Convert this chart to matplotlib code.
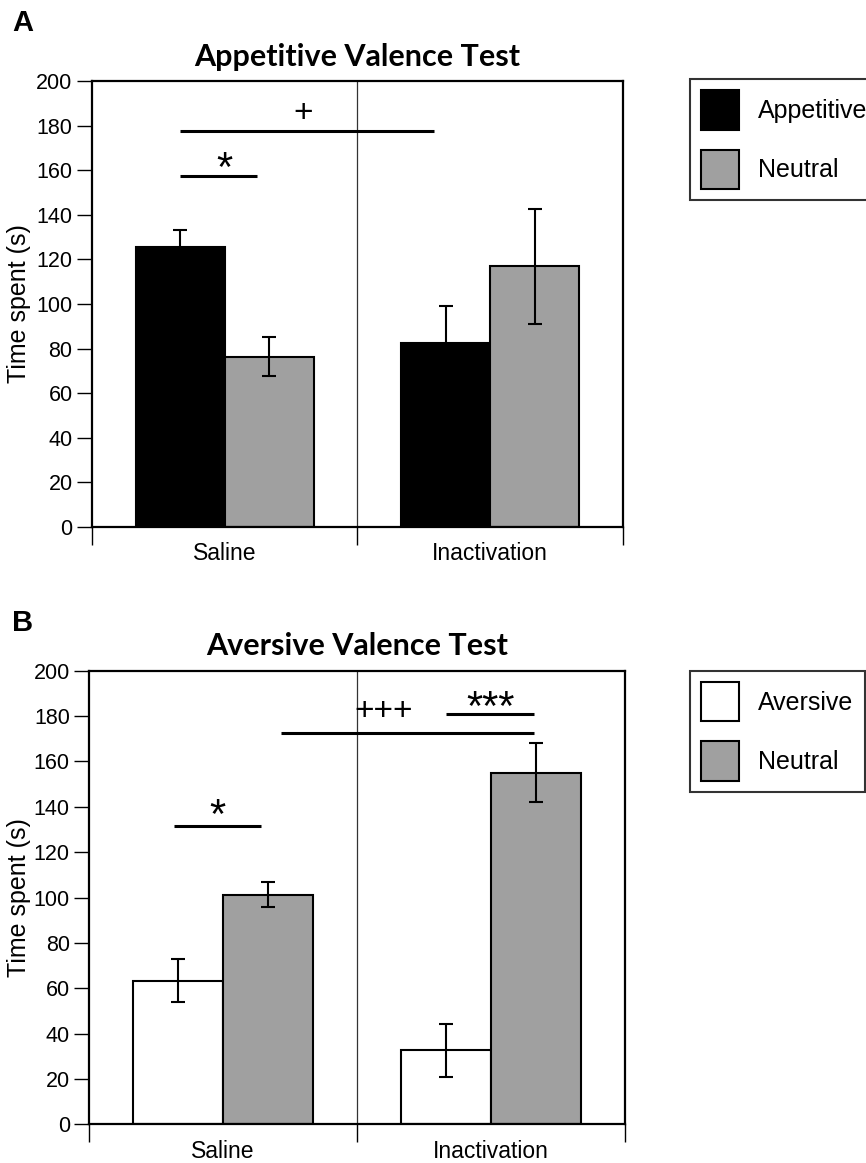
import matplotlib.pyplot as plt
from matplotlib.patches import Patch

# groups on the x axis
groups = ["Saline", "Inactivation"]

# panel A: appetitive valence test
appetitive_mean = [125.4, 82.4]
appetitive_err = [8.0, 16.7]
neutral_a_mean = [76.4, 117.0]
neutral_a_err = [8.8, 25.8]

# panel B: aversive valence test
aversive_mean = [63.4, 32.6]
aversive_err = [9.5, 11.6]
neutral_b_mean = [101.2, 155.1]
neutral_b_err = [5.6, 13.1]

# significance bars: (x start, x end, y)
sig_lines_a = [(-0.169, 0.122, 157.4), (-0.169, 0.788, 177.6)]
sig_text_a = [(0.0, 155.0, "*", 30), (0.295, 181.8, "+", 24)]
sig_lines_b = [(-0.184, 0.143, 131.4), (0.216, 1.161, 172.5), (0.832, 1.161, 180.9)]
sig_text_b = [(-0.02, 130.5, "*", 30), (0.6, 178.3, "+++", 24), (1.0, 178.2, "***", 30)]

GRAY = "#a0a0a0"
BAR_W = 0.335
SANS = "Liberation Sans"

plt.rcParams["font.family"] = SANS


def draw_panel(ax, left_mean, left_err, left_color, right_mean, right_err,
               title, lines, texts, ylabel_x):
    x = list(range(len(groups)))
    xl = [i - BAR_W / 2 for i in x]
    xr = [i + BAR_W / 2 for i in x]
    ax.bar(xl, left_mean, BAR_W, color=left_color, edgecolor="black", linewidth=1.5, zorder=2)
    ax.bar(xr, right_mean, BAR_W, color=GRAY, edgecolor="black", linewidth=1.5, zorder=2)
    ax.errorbar(xl, left_mean, yerr=left_err, fmt="none", ecolor="black",
                elinewidth=1.5, capsize=5, capthick=1.5, zorder=3)
    ax.errorbar(xr, right_mean, yerr=right_err, fmt="none", ecolor="black",
                elinewidth=1.5, capsize=5, capthick=1.5, zorder=3)

    ax.axvline(0.5, color="#333333", lw=0.9, zorder=1)

    for x0, x1, y in lines:
        ax.plot([x0, x1], [y, y], color="black", lw=2.2, solid_capstyle="butt", zorder=4)
    for tx, ty, s, fs in texts:
        ax.text(tx, ty, s, ha="center", va="baseline", fontsize=fs, zorder=4)

    ax.set_xlim(-0.5, 1.5)
    ax.set_ylim(0, 200)
    ax.set_yticks(range(0, 201, 20))
    ax.set_xticks([-0.5, 0.5, 1.5])
    ax.set_xticklabels([])
    ax.set_xticks(x, minor=True)
    ax.set_xticklabels(groups, minor=True, fontsize=16.5)
    ax.tick_params(axis="x", which="major", direction="out", length=13, width=1)
    ax.tick_params(axis="x", which="minor", length=0, pad=11)
    ax.tick_params(axis="y", direction="out", length=11, width=1, labelsize=15.5, pad=3)
    for sp in ax.spines.values():
        sp.set_linewidth(1.6)
    ax.set_ylabel("Time spent (s)", fontsize=18)
    ax.yaxis.set_label_coords(ylabel_x, 0.5)
    ax.set_title(title, fontsize=22, fontweight="bold", family="Lato", pad=11)


fig = plt.figure(figsize=(8.66, 11.63), dpi=100)
W, H = 866, 1163

axA = fig.add_axes([92 / W, 1 - 527 / H, 531 / W, 446 / H])
draw_panel(axA, appetitive_mean, appetitive_err, "black",
           neutral_a_mean, neutral_a_err, "Appetitive Valence Test",
           sig_lines_a, sig_text_a, (31 - 92) / 531)

axB = fig.add_axes([89.3 / W, 1 - 1124.3 / H, 535.4 / W, 453.6 / H])
draw_panel(axB, aversive_mean, aversive_err, "white",
           neutral_b_mean, neutral_b_err, "Aversive Valence Test",
           sig_lines_b, sig_text_b, (31 - 89.3) / 535.4)

fig.text(12 / W, 1 - 31 / H, "A", fontsize=21, fontweight="bold")
fig.text(12 / W, 1 - 631 / H, "B", fontsize=21, fontweight="bold")


def add_legend(labels, colors, top_px):
    handles = [Patch(facecolor=c, edgecolor="black", linewidth=1.5) for c in colors]
    leg = fig.legend(handles, labels, loc="upper left",
                     bbox_to_anchor=(690 / W, 1 - top_px / H), borderaxespad=0,
                     fontsize=18, frameon=True, fancybox=False, edgecolor="black",
                     handlelength=1.52, handleheight=2.05, labelspacing=0.8,
                     handletextpad=0.75, borderpad=0.45)
    leg.get_frame().set_linewidth(1.5)


add_legend(["Appetitive", "Neutral"], ["black", GRAY], 79)
add_legend(["Aversive", "Neutral"], ["white", GRAY], 670.7)

fig.savefig("out.png", dpi=100)
